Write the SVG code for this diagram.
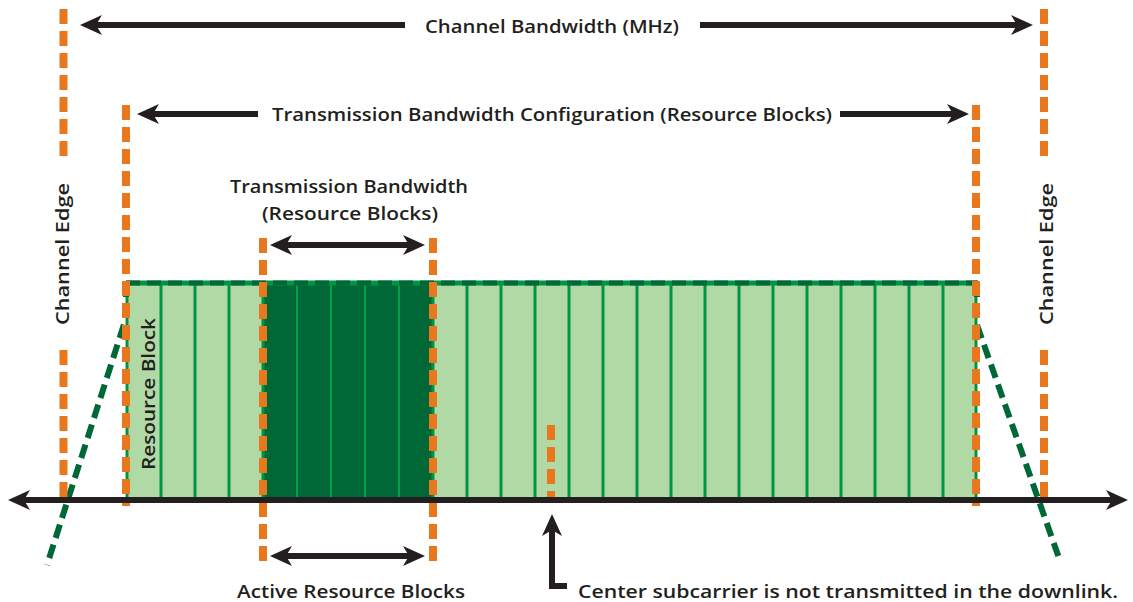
<svg xmlns="http://www.w3.org/2000/svg" width="1133" height="602" viewBox="0 0 1133 602">
<style>
.t{font-family:"Open Sans","DejaVu Sans",sans-serif;font-size:18px;font-weight:600;fill:#231f20}
.ar{stroke:#231f20;stroke-width:6;fill:none}
.or{stroke:#e8771e;stroke-width:8;stroke-dasharray:15 7;fill:none}
.div{stroke:#009444;stroke-width:3}
.divd{stroke:#00a14b;stroke-width:2}
.mask{stroke:#006837;stroke-width:6;stroke-dasharray:14 7;fill:none}
</style>
<defs>
<marker id="ah" viewBox="0 0 22 22" refX="6" refY="11" markerWidth="22" markerHeight="22" markerUnits="userSpaceOnUse" orient="auto-start-reverse">
<path d="M0,1 L22,11 L0,21 L6,11 Z" fill="#231f20"/>
</marker>
</defs>
<rect width="1133" height="602" fill="#fff"/>

<g id="resource-blocks">
<rect x="126" y="283" width="851" height="215" fill="#b1d9a6"/>
<rect x="263" y="283" width="170" height="215" fill="#006837"/>
<g class="div">
<line x1="161" y1="285" x2="161" y2="498"/><line x1="195" y1="285" x2="195" y2="498"/><line x1="229" y1="285" x2="229" y2="498"/>
<line x1="467" y1="285" x2="467" y2="498"/><line x1="501" y1="285" x2="501" y2="498"/><line x1="535" y1="285" x2="535" y2="498"/>
<line x1="569" y1="285" x2="569" y2="498"/><line x1="603" y1="285" x2="603" y2="498"/><line x1="637" y1="285" x2="637" y2="498"/>
<line x1="671" y1="285" x2="671" y2="498"/><line x1="705" y1="285" x2="705" y2="498"/><line x1="739" y1="285" x2="739" y2="498"/>
<line x1="773" y1="285" x2="773" y2="498"/><line x1="807" y1="285" x2="807" y2="498"/><line x1="841" y1="285" x2="841" y2="498"/>
<line x1="875" y1="285" x2="875" y2="498"/><line x1="909" y1="285" x2="909" y2="498"/><line x1="943" y1="285" x2="943" y2="498"/>
<line x1="127" y1="283" x2="127" y2="498"/><line x1="263" y1="283" x2="263" y2="498"/><line x1="433" y1="283" x2="433" y2="498"/><line x1="976" y1="283" x2="976" y2="498"/>
</g>
<g class="divd">
<line x1="297" y1="285" x2="297" y2="498"/><line x1="331" y1="285" x2="331" y2="498"/><line x1="365" y1="285" x2="365" y2="498"/><line x1="399" y1="285" x2="399" y2="498"/>
</g>
<line x1="126" y1="283" x2="978" y2="283" stroke="#009444" stroke-width="5"/>
<line x1="126" y1="283" x2="978" y2="283" stroke="#006837" stroke-width="5" stroke-dasharray="14 7"/>
</g>

<g id="spectrum-mask">
<polyline class="mask" points="126,283 126,318 47,565"/>
<polyline class="mask" points="977,283 977,325 1059,558"/>
</g>

<g id="edges">
<line class="or" x1="63.5" y1="9" x2="63.5" y2="157"/>
<line class="or" x1="63.5" y1="350" x2="63.5" y2="500"/>
<line class="or" x1="1044" y1="9" x2="1044" y2="157"/>
<line class="or" x1="1044" y1="350" x2="1044" y2="500"/>
<line class="or" x1="126" y1="105" x2="126" y2="506"/>
<line class="or" x1="976" y1="105" x2="976" y2="506"/>
<line class="or" x1="263" y1="238" x2="263" y2="563"/>
<line class="or" x1="433" y1="238" x2="433" y2="563"/>
<line class="or" x1="551" y1="425" x2="551" y2="503" stroke-width="6" stroke-dasharray="13 7"/>
</g>

<g id="connectors">
<line class="ar" x1="24" y1="500" x2="1112" y2="500" marker-start="url(#ah)" marker-end="url(#ah)"/>
<line class="ar" x1="96" y1="25" x2="405" y2="25" marker-start="url(#ah)"/>
<line class="ar" x1="700" y1="25" x2="1017" y2="25" marker-end="url(#ah)"/>
<line class="ar" x1="153" y1="114" x2="258" y2="114" marker-start="url(#ah)"/>
<line class="ar" x1="840" y1="114" x2="953" y2="114" marker-end="url(#ah)"/>
<line class="ar" x1="286" y1="245" x2="409" y2="245" marker-start="url(#ah)" marker-end="url(#ah)"/>
<line class="ar" x1="286" y1="556" x2="409" y2="556" marker-start="url(#ah)" marker-end="url(#ah)"/>
<polyline class="ar" points="552,530 552,586 567,586" marker-start="url(#ah)"/>
</g>

<g id="labels">
<text class="t" x="552" y="33" text-anchor="middle" textLength="254" lengthAdjust="spacingAndGlyphs">Channel Bandwidth (MHz)</text>
<text class="t" x="552" y="121" text-anchor="middle" textLength="560" lengthAdjust="spacingAndGlyphs">Transmission Bandwidth Configuration (Resource Blocks)</text>
<text class="t" x="349" y="193" text-anchor="middle" textLength="238" lengthAdjust="spacingAndGlyphs">Transmission Bandwidth</text>
<text class="t" x="350" y="220" text-anchor="middle" textLength="176" lengthAdjust="spacingAndGlyphs">(Resource Blocks)</text>
<text class="t" x="351" y="598" text-anchor="middle" textLength="228" lengthAdjust="spacingAndGlyphs">Active Resource Blocks</text>
<text class="t" x="578" y="598" textLength="540" lengthAdjust="spacingAndGlyphs">Center subcarrier is not transmitted in the downlink.</text>
<text class="t" transform="translate(69,254) rotate(-90)" text-anchor="middle" textLength="142" lengthAdjust="spacingAndGlyphs">Channel Edge</text>
<text class="t" transform="translate(1053,254) rotate(-90)" text-anchor="middle" textLength="142" lengthAdjust="spacingAndGlyphs">Channel Edge</text>
<text class="t" transform="translate(155,394) rotate(-90)" text-anchor="middle" textLength="152" lengthAdjust="spacingAndGlyphs">Resource Block</text>
</g>
</svg>
